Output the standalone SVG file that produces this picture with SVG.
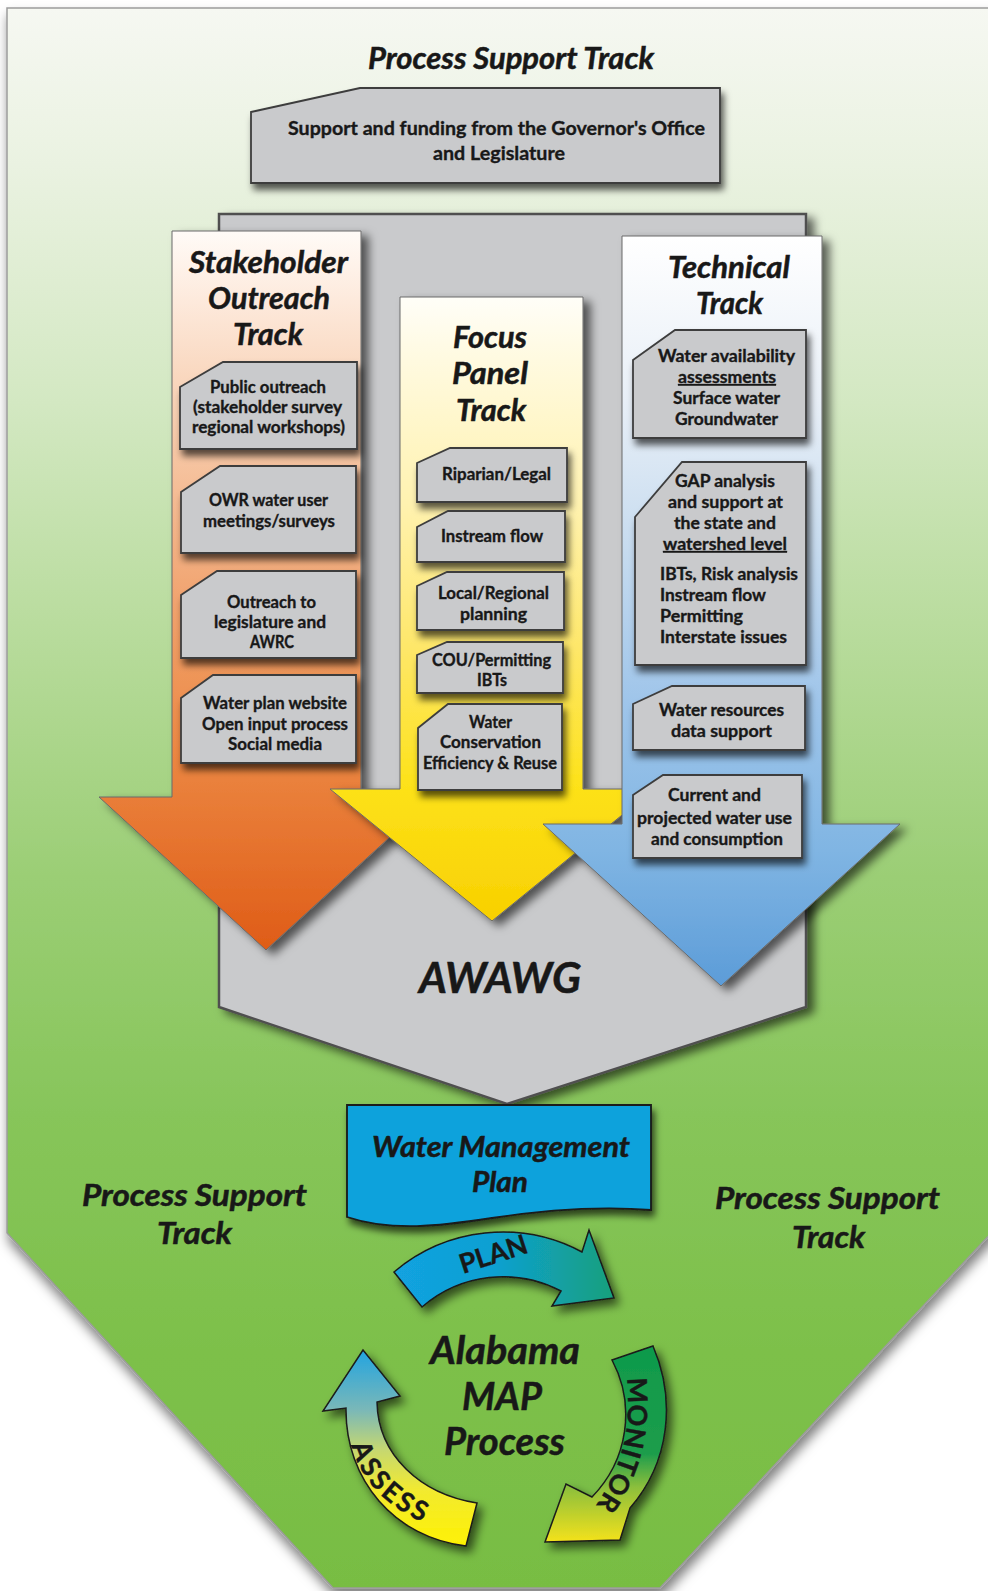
<svg xmlns="http://www.w3.org/2000/svg" width="988" height="1591" viewBox="0 0 988 1591">
<defs>
<style>
.t{font-family:Lato,"Open Sans","Liberation Sans",sans-serif;fill:#181818;}
.h{font-weight:700;font-style:italic;font-size:30px;stroke:#181818;stroke-width:0.5;}
.b{font-weight:700;font-size:16.5px;stroke:#181818;stroke-width:0.35;}
.box{fill:#c9cacc;stroke:#3d3d3d;stroke-width:1.8;filter:url(#shB);}
.arr{stroke:#6a6a6a;stroke-width:1;filter:url(#shA);}
.cyc{stroke:#1a1a1a;stroke-width:1.5;filter:url(#shC);}
.cl{font-weight:700;font-size:27px;stroke:#181818;stroke-width:0.4;}
</style>
<filter id="shA" x="-15%" y="-10%" width="140%" height="125%"><feDropShadow dx="7" dy="5" stdDeviation="5" flood-color="#000" flood-opacity="0.6"/></filter>
<filter id="shB" x="-15%" y="-20%" width="140%" height="160%"><feDropShadow dx="3" dy="6" stdDeviation="3.5" flood-color="#000" flood-opacity="0.65"/></filter>
<filter id="shC" x="-20%" y="-20%" width="150%" height="150%"><feDropShadow dx="5" dy="6" stdDeviation="5" flood-color="#000" flood-opacity="0.6"/></filter>
<filter id="shO" x="-5%" y="-5%" width="110%" height="110%"><feDropShadow dx="2" dy="8" stdDeviation="6" flood-color="#000" flood-opacity="0.5"/></filter>
<linearGradient id="gBg" gradientUnits="userSpaceOnUse" x1="0" y1="8" x2="0" y2="1588">
<stop offset="0" stop-color="#f6f8f2"/><stop offset="0.1" stop-color="#eaf2e1"/><stop offset="0.25" stop-color="#d3e8c2"/><stop offset="0.4" stop-color="#b7db9b"/><stop offset="0.55" stop-color="#9bce75"/><stop offset="0.7" stop-color="#87c55a"/><stop offset="0.85" stop-color="#7dc04a"/><stop offset="1" stop-color="#78bd43"/>
</linearGradient>
<linearGradient id="gOr" gradientUnits="userSpaceOnUse" x1="0" y1="231" x2="0" y2="950">
<stop offset="0" stop-color="#fffbf7"/><stop offset="0.1" stop-color="#fde9db"/><stop offset="0.235" stop-color="#f8d2b6"/><stop offset="0.51" stop-color="#f1a470"/><stop offset="0.72" stop-color="#ec8843"/><stop offset="1" stop-color="#df5c17"/>
</linearGradient>
<linearGradient id="gYe" gradientUnits="userSpaceOnUse" x1="0" y1="297" x2="0" y2="921">
<stop offset="0" stop-color="#fffef8"/><stop offset="0.1" stop-color="#fffae0"/><stop offset="0.33" stop-color="#fff2b0"/><stop offset="0.56" stop-color="#fee76a"/><stop offset="0.78" stop-color="#fde21a"/><stop offset="1" stop-color="#f8d000"/>
</linearGradient>
<linearGradient id="gBl" gradientUnits="userSpaceOnUse" x1="0" y1="236" x2="0" y2="986">
<stop offset="0" stop-color="#ffffff"/><stop offset="0.22" stop-color="#e8eff7"/><stop offset="0.42" stop-color="#c6dbef"/><stop offset="0.62" stop-color="#9fc5ea"/><stop offset="0.82" stop-color="#80b5e3"/><stop offset="1" stop-color="#5c9cd8"/>
</linearGradient>
<linearGradient id="gPl" gradientUnits="userSpaceOnUse" x1="394" y1="0" x2="614" y2="0">
<stop offset="0" stop-color="#12a2e0"/><stop offset="0.45" stop-color="#0fa0d2"/><stop offset="1" stop-color="#15a07c"/>
</linearGradient>
<linearGradient id="gMo" gradientUnits="userSpaceOnUse" x1="0" y1="1346" x2="0" y2="1542">
<stop offset="0" stop-color="#0e9a4c"/><stop offset="0.55" stop-color="#1d9d4c"/><stop offset="0.72" stop-color="#8cbf3c"/><stop offset="1" stop-color="#f4e21c"/>
</linearGradient>
<linearGradient id="gAs" gradientUnits="userSpaceOnUse" x1="0" y1="1350" x2="0" y2="1550">
<stop offset="0" stop-color="#22a4e0"/><stop offset="0.3" stop-color="#7ab8b8"/><stop offset="0.5" stop-color="#c6d870"/><stop offset="0.7" stop-color="#f2ea30"/><stop offset="1" stop-color="#fff200"/>
</linearGradient>
<path id="pMon" d="M627,1376 C630,1420 628,1455 598,1502" fill="none"/>
<path id="pAs" d="M350,1440 C360,1485 395,1512 430,1525" fill="none"/>
</defs>
<rect x="0" y="0" width="988" height="1591" fill="#ffffff"/>

<g id="background">
<path d="M7,8 H996 V1228 L660,1588 H333 L7,1233 Z" fill="url(#gBg)" stroke="#9c9c9c" stroke-width="1.5" filter="url(#shO)"/>
</g>

<g id="awawg">
<polygon points="219,214 806,214 806,1007 507,1104 219,1007" fill="#c9cacc" stroke="#505050" stroke-width="2.5" filter="url(#shA)"/>
</g>

<g id="title-top">
<text class="t h" x="368" y="69" textLength="286" lengthAdjust="spacingAndGlyphs">Process Support Track</text>
</g>

<g id="support-box">
<polygon class="box" points="251,112 360,88 720,88 720,183 251,183"/>
<text class="t b" style="font-size:19px" x="288" y="135" textLength="417" lengthAdjust="spacingAndGlyphs">Support and funding from the Governor's Office</text>
<text class="t b" style="font-size:19px" x="433" y="160" textLength="132" lengthAdjust="spacingAndGlyphs">and Legislature</text>
</g>

<g id="stakeholder-track">
<polygon class="arr" fill="url(#gOr)" points="172,231 361,231 361,797 434,797 266,950 99,797 172,797"/>
<text class="t h" x="189" y="273" textLength="159" lengthAdjust="spacingAndGlyphs">Stakeholder</text>
<text class="t h" x="208" y="309" textLength="122" lengthAdjust="spacingAndGlyphs">Outreach</text>
<text class="t h" x="233" y="345" textLength="70" lengthAdjust="spacingAndGlyphs">Track</text>
</g>

<g id="focus-track">
<polygon class="arr" fill="url(#gYe)" points="400,297 583,297 583,789 654,789 492,921 330,789 400,789"/>
<text class="t h" x="453" y="348" textLength="74" lengthAdjust="spacingAndGlyphs">Focus</text>
<text class="t h" x="452" y="384" textLength="76" lengthAdjust="spacingAndGlyphs">Panel</text>
<text class="t h" x="456" y="421" textLength="70" lengthAdjust="spacingAndGlyphs">Track</text>
</g>

<g id="technical-track">
<polygon class="arr" fill="url(#gBl)" points="622,236 822,236 822,824 900,824 721,986 543,824 622,824"/>
<text class="t h" x="668" y="278" textLength="122" lengthAdjust="spacingAndGlyphs">Technical</text>
<text class="t h" x="696" y="314" textLength="67" lengthAdjust="spacingAndGlyphs">Track</text>
</g>

<g id="public-outreach">
<polygon class="box" points="180,387 223,362 357,362 357,449 180,449"/>
<text class="t b" x="210" y="393" textLength="116" lengthAdjust="spacingAndGlyphs">Public outreach</text>
<text class="t b" x="193" y="413" textLength="149" lengthAdjust="spacingAndGlyphs">(stakeholder survey</text>
<text class="t b" x="192" y="433" textLength="153" lengthAdjust="spacingAndGlyphs">regional workshops)</text>
</g>
<g id="owr-meetings">
<polygon class="box" points="181,492 220,466 356,466 356,553 181,553"/>
<text class="t b" x="209" y="506" textLength="119" lengthAdjust="spacingAndGlyphs">OWR water user</text>
<text class="t b" x="203" y="527" textLength="132" lengthAdjust="spacingAndGlyphs">meetings/surveys</text>
</g>
<g id="outreach-legislature">
<polygon class="box" points="181,595 217,571 356,571 356,658 181,658"/>
<text class="t b" x="227" y="608" textLength="89" lengthAdjust="spacingAndGlyphs">Outreach to</text>
<text class="t b" x="214" y="628" textLength="112" lengthAdjust="spacingAndGlyphs">legislature and</text>
<text class="t b" x="250" y="648" textLength="44" lengthAdjust="spacingAndGlyphs">AWRC</text>
</g>
<g id="water-plan-website">
<polygon class="box" points="181,698 213,675 356,675 356,763 181,763"/>
<text class="t b" x="203" y="709" textLength="144" lengthAdjust="spacingAndGlyphs">Water plan website</text>
<text class="t b" x="202" y="730" textLength="146" lengthAdjust="spacingAndGlyphs">Open input process</text>
<text class="t b" x="228" y="750" textLength="94" lengthAdjust="spacingAndGlyphs">Social media</text>
</g>

<g id="riparian">
<polygon class="box" points="417,463 450,448 567,448 567,502 417,502"/>
<text class="t b" x="442" y="480" textLength="109" lengthAdjust="spacingAndGlyphs">Riparian/Legal</text>
</g>
<g id="instream-flow">
<polygon class="box" points="417,527 448,511 565,511 565,562 417,562"/>
<text class="t b" x="441" y="542" textLength="102" lengthAdjust="spacingAndGlyphs">Instream flow</text>
</g>
<g id="local-regional">
<polygon class="box" points="417,586 447,572 564,572 564,630 417,630"/>
<text class="t b" x="438" y="599" textLength="111" lengthAdjust="spacingAndGlyphs">Local/Regional</text>
<text class="t b" x="460" y="620" textLength="67" lengthAdjust="spacingAndGlyphs">planning</text>
</g>
<g id="cou-permitting">
<polygon class="box" points="417,655 447,642 563,642 563,693 417,693"/>
<text class="t b" x="432" y="666" textLength="119" lengthAdjust="spacingAndGlyphs">COU/Permitting</text>
<text class="t b" x="477" y="686" textLength="30" lengthAdjust="spacingAndGlyphs">IBTs</text>
</g>
<g id="water-conservation">
<polygon class="box" points="418,728 448,704 562,704 562,790 418,790"/>
<text class="t b" x="469" y="728" textLength="43" lengthAdjust="spacingAndGlyphs">Water</text>
<text class="t b" x="440" y="748" textLength="101" lengthAdjust="spacingAndGlyphs">Conservation</text>
<text class="t b" x="423" y="769" textLength="134" lengthAdjust="spacingAndGlyphs">Efficiency &amp; Reuse</text>
</g>

<g id="water-availability">
<polygon class="box" points="633,360 675,330 806,330 806,438 633,438"/>
<text class="t b" x="658" y="362" textLength="137" lengthAdjust="spacingAndGlyphs">Water availability</text>
<text class="t b" x="678" y="383" textLength="98" lengthAdjust="spacingAndGlyphs" text-decoration="underline">assessments</text>
<text class="t b" x="673" y="404" textLength="107" lengthAdjust="spacingAndGlyphs">Surface water</text>
<text class="t b" x="675" y="425" textLength="103" lengthAdjust="spacingAndGlyphs">Groundwater</text>
</g>
<g id="gap-analysis">
<polygon class="box" points="635,517 682,462 806,462 806,665 635,665"/>
<text class="t b" x="675" y="487" textLength="100" lengthAdjust="spacingAndGlyphs">GAP analysis</text>
<text class="t b" x="668" y="508" textLength="115" lengthAdjust="spacingAndGlyphs">and support at</text>
<text class="t b" x="674" y="529" textLength="102" lengthAdjust="spacingAndGlyphs">the state and</text>
<text class="t b" x="663" y="550" textLength="124" lengthAdjust="spacingAndGlyphs" text-decoration="underline">watershed level</text>
<text class="t b" x="660" y="580" textLength="138" lengthAdjust="spacingAndGlyphs">IBTs, Risk analysis</text>
<text class="t b" x="660" y="601" textLength="106" lengthAdjust="spacingAndGlyphs">Instream flow</text>
<text class="t b" x="660" y="622" textLength="83" lengthAdjust="spacingAndGlyphs">Permitting</text>
<text class="t b" x="660" y="643" textLength="127" lengthAdjust="spacingAndGlyphs">Interstate issues</text>
</g>
<g id="water-resources">
<polygon class="box" points="633,704 672,686 805,686 805,750 633,750"/>
<text class="t b" x="659" y="716" textLength="125" lengthAdjust="spacingAndGlyphs">Water resources</text>
<text class="t b" x="671" y="737" textLength="101" lengthAdjust="spacingAndGlyphs">data support</text>
</g>
<g id="current-water-use">
<polygon class="box" points="633,795 663,775 802,775 802,858 633,858"/>
<text class="t b" x="668" y="801" textLength="93" lengthAdjust="spacingAndGlyphs">Current and</text>
<text class="t b" x="637" y="824" textLength="155" lengthAdjust="spacingAndGlyphs">projected water use</text>
<text class="t b" x="651" y="845" textLength="132" lengthAdjust="spacingAndGlyphs">and consumption</text>
</g>

<g id="awawg-label">
<text class="t h" style="font-size:42px" x="419" y="993" textLength="162" lengthAdjust="spacingAndGlyphs">AWAWG</text>
</g>

<g id="water-management-plan">
<path d="M347,1105 H651 V1210 C600,1206 545,1210 492,1218 C440,1226 392,1232 347,1217 Z" fill="#0aa2dc" stroke="#1a1a1a" stroke-width="1.8" filter="url(#shB)"/>
<text class="t h" style="font-size:29px" x="372" y="1157" textLength="258" lengthAdjust="spacingAndGlyphs">Water Management</text>
<text class="t h" style="font-size:29px" x="472" y="1192" textLength="56" lengthAdjust="spacingAndGlyphs">Plan</text>
</g>

<g id="process-support-left">
<text class="t h" x="82" y="1206" textLength="225" lengthAdjust="spacingAndGlyphs">Process Support</text>
<text class="t h" x="157" y="1244" textLength="75" lengthAdjust="spacingAndGlyphs">Track</text>
</g>
<g id="process-support-right">
<text class="t h" x="715" y="1209" textLength="225" lengthAdjust="spacingAndGlyphs">Process Support</text>
<text class="t h" x="792" y="1248" textLength="73" lengthAdjust="spacingAndGlyphs">Track</text>
</g>

<g id="alabama-map">
<text class="t h" style="font-size:39px" x="430" y="1364" textLength="150" lengthAdjust="spacingAndGlyphs">Alabama</text>
<text class="t h" style="font-size:39px" x="462" y="1410" textLength="80" lengthAdjust="spacingAndGlyphs">MAP</text>
<text class="t h" style="font-size:39px" x="444" y="1455" textLength="121" lengthAdjust="spacingAndGlyphs">Process</text>
</g>

<g id="connectors">
<path class="cyc" fill="url(#gPl)" d="M394,1272 A168 168 0 0 1 582,1252 L589,1230 L614,1298 L552,1306 L561,1291 A124 124 0 0 0 422,1307 Z"/>
<path class="cyc" fill="url(#gMo)" d="M612,1360 L653,1346 C676,1400 670,1462 630,1508 L620,1540 L545,1542 L566,1484 L592,1497 C628,1460 636,1405 612,1360 Z"/>
<path class="cyc" fill="url(#gAs)" d="M477,1503 C420,1494 378,1455 377,1402 L400,1396 L363,1350 L323,1411 L346,1408 C345,1480 395,1538 466,1546 Z"/>
<text class="t cl" transform="translate(463,1274) rotate(-18)" x="0" y="0" textLength="70" lengthAdjust="spacingAndGlyphs">PLAN</text>
<text class="t cl" letter-spacing="0.5"><textPath href="#pMon" startOffset="2">MONITOR</textPath></text>
<text class="t cl" letter-spacing="3"><textPath href="#pAs" startOffset="50%" text-anchor="middle">ASSESS</textPath></text>
</g>
</svg>
